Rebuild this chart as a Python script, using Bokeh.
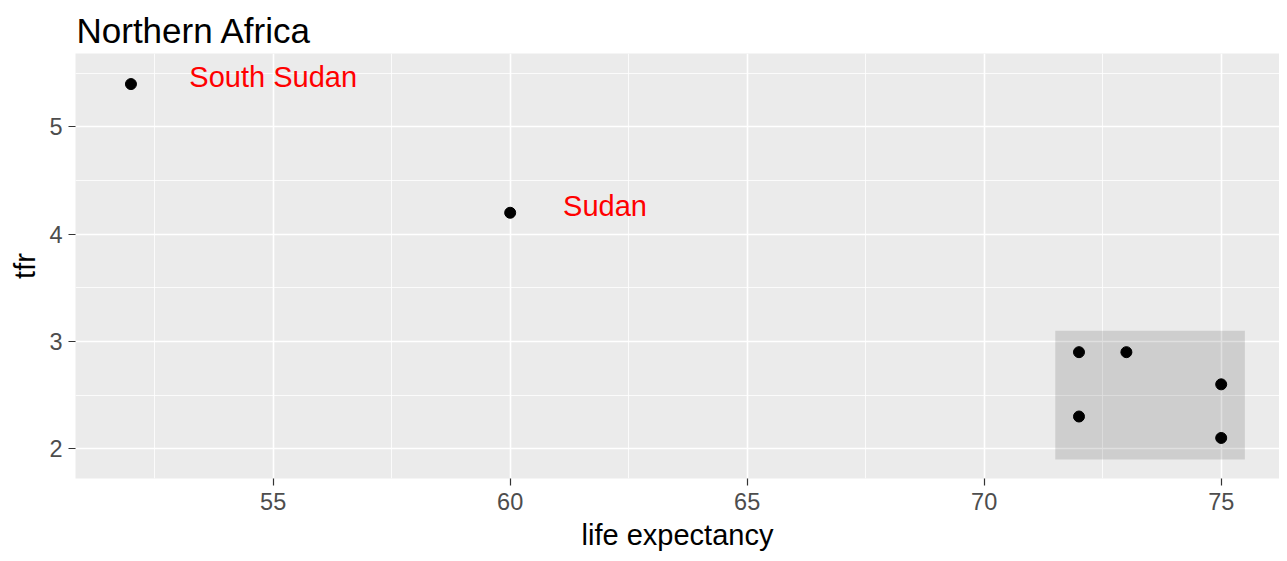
from bokeh.plotting import figure
from bokeh.models import Range1d, FixedTicker, ColumnDataSource
from bokeh.embed import file_html
from bokeh.resources import INLINE

# ---- data ----
life_expectancy = [52, 60, 72, 73, 75, 72, 75]
tfr = [5.4, 4.2, 2.9, 2.9, 2.6, 2.3, 2.1]

label_names = ["South Sudan", "Sudan"]
label_x = [55, 62]
label_y = [5.47, 4.26]

rect_left = [71.5]
rect_right = [75.5]
rect_bottom = [1.9]
rect_top = [3.1]

x_ticks = [55, 60, 65, 70, 75]
x_minor = [52.5, 57.5, 62.5, 67.5, 72.5]
y_ticks = [2, 3, 4, 5]
y_minor = [2.5, 3.5, 4.5, 5.5]

FONT = "Liberation Sans"

p = figure(width=1279, height=553, output_backend="svg", toolbar_location=None,
           x_range=Range1d(50.83, 76.23), y_range=Range1d(1.722, 5.685),
           title="Northern Africa",
           min_border_left=75, min_border_right=0, min_border_top=53, min_border_bottom=72)

p.title.text_font = FONT
p.title.text_font_size = "35px"
p.title.text_font_style = "normal"
p.title.text_color = "black"
p.title.standoff = 8
p.title.offset = 1

p.background_fill_color = "#EBEBEB"
p.border_fill_color = "white"
p.outline_line_color = None

p.xaxis.ticker = FixedTicker(ticks=x_ticks, minor_ticks=x_minor)
p.yaxis.ticker = FixedTicker(ticks=y_ticks, minor_ticks=y_minor)

for ax in (p.xaxis, p.yaxis):
    ax.axis_line_color = None
    ax.major_tick_line_color = "#333333"
    ax.major_tick_line_width = 1.2
    ax.major_tick_out = 7
    ax.major_tick_in = 0
    ax.minor_tick_out = 0
    ax.minor_tick_in = 0
    ax.minor_tick_line_color = None
    ax.major_label_text_font = FONT
    ax.major_label_text_font_size = "23.5px"
    ax.major_label_text_color = "#4D4D4D"
    ax.axis_label_text_font = FONT
    ax.axis_label_text_font_size = "29px"
    ax.axis_label_text_font_style = "normal"
    ax.axis_label_text_color = "black"

p.xaxis.major_label_standoff = 7
p.xaxis.axis_label_standoff = 6
p.yaxis.major_label_standoff = 6
p.yaxis.axis_label_standoff = 5

p.xaxis.axis_label = "life expectancy"
p.yaxis.axis_label = "tfr"

for g in (p.xgrid, p.ygrid):
    g.grid_line_color = "white"
    g.grid_line_width = 1.6
    g.minor_grid_line_color = "white"
    g.minor_grid_line_width = 0.8

p.quad(left=rect_left, right=rect_right, bottom=rect_bottom, top=rect_top,
       fill_color="black", fill_alpha=0.12, line_color=None)

p.scatter(life_expectancy, tfr, size=11, color="black")

src = ColumnDataSource(dict(x=label_x, y=label_y, t=label_names))
p.text(x="x", y="y", text="t", source=src, text_color="#FF0000",
       text_font_size="29px", text_align="center", text_baseline="middle",
       text_font={"value": FONT})

open("out.html", "w").write(file_html(p, INLINE))
